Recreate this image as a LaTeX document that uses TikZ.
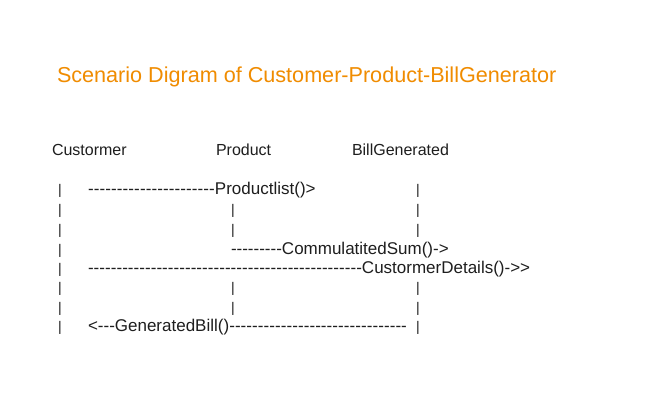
\documentclass[tikz,border=0pt]{standalone}
\usepackage{fontspec}
\setmainfont{Liberation Sans}[Ligatures=TeXOff]
\definecolor{ink}{HTML}{1E1E1E}
\definecolor{titleorange}{HTML}{F08C00}
\newcommand\fillrun{\xleaders\hbox{-}\hfill}
\begin{document}
\begin{tikzpicture}[x=1pt,y=-1pt,
  hdr/.style={inner sep=0pt,outer sep=0pt,anchor=base west,text=ink,font=\fontsize{16}{19}\selectfont},
  txt/.style={inner sep=0pt,outer sep=0pt,anchor=base west,text=ink,font=\fontsize{17}{20}\selectfont},
  bar/.style={inner sep=0pt,outer sep=0pt,anchor=base,text=ink,font=\fontsize{14}{17}\selectfont},
  ttl/.style={inner sep=0pt,outer sep=0pt,anchor=base west,text=titleorange,font=\fontsize{21.6}{25}\selectfont}]
\useasboundingbox[fill=white] (0,0) rectangle (645,413);
% title
\node[ttl] (title) at (57,82) {Scenario Digram of Customer-Product-BillGenerator};
% headers
\node[hdr] (hc) at (52,155) {Custormer};
\node[hdr] (hp) at (216,155) {Product};
\node[hdr] (hb) at (352,155) {BillGenerated};
% row 1
\node[bar] (c1) at (60,194) {|};
\node[txt] (m1) at (88,194) {\hbox to 127pt{\fillrun}Productlist()>};
\node[bar] (b1) at (418,194) {|};
% row 2
\node[bar] (c2) at (60,214) {|};
\node[bar] (p2) at (233,214) {|};
\node[bar] (b2) at (418,214) {|};
% row 3
\node[bar] (c3) at (60,234) {|};
\node[bar] (p3) at (233,234) {|};
\node[bar] (b3) at (418,234) {|};
% row 4
\node[bar] (c4) at (60,254) {|};
\node[txt] (m4) at (231,254) {\hbox to 51pt{\fillrun}CommulatitedSum()->};
% row 5
\node[bar] (c5) at (60,273) {|};
\node[txt] (m5) at (88,273) {\hbox to 274pt{\fillrun}CustormerDetails()->>};
% row 6
\node[bar] (c6) at (60,292) {|};
\node[bar] (p6) at (233,292) {|};
\node[bar] (b6) at (418,292) {|};
% row 7
\node[bar] (c7) at (60,312) {|};
\node[bar] (p7) at (233,312) {|};
\node[bar] (b7) at (418,312) {|};
% row 8
\node[bar] (c8) at (60,331) {|};
\node[txt] (m8) at (88,331) {\hbox to 319pt{<---GeneratedBill()\fillrun}};
\node[bar] (b8) at (418,331) {|};
\end{tikzpicture}
\end{document}
